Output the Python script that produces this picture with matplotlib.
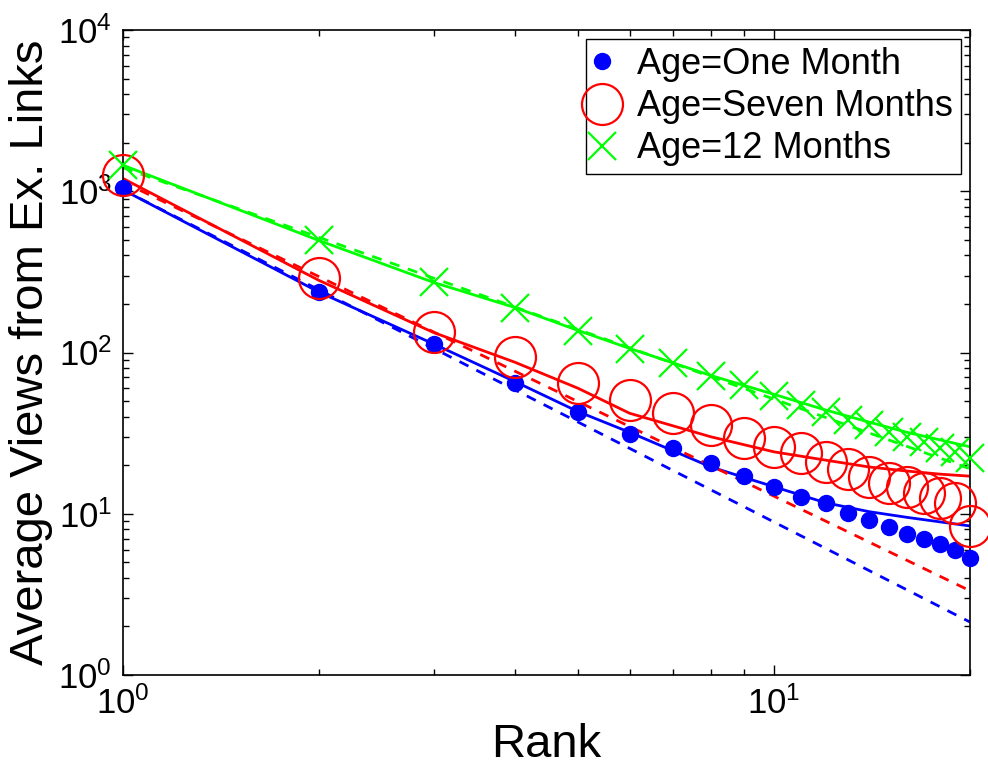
import matplotlib
matplotlib.use("Agg")
import matplotlib.pyplot as plt
from matplotlib.ticker import LogLocator, LogFormatterMathtext, NullFormatter

plt.rcParams['font.family'] = ['Liberation Sans', 'DejaVu Sans']
plt.rcParams['mathtext.default'] = 'regular'

# ---- data ----
rank = list(range(1, 21))
one_month = [1047, 237, 113, 64.7, 42.8, 31.2, 25.6, 20.6, 17.1, 14.6,
             12.7, 11.7, 10.1, 9.15, 8.28, 7.49, 6.97, 6.49, 5.96, 5.32]
seven_months = [1270, 290, 134, 93.8, 64.7, 50.8, 42.2, 35.5, 29.5, 25.9,
                23.8, 20.9, 18.9, 16.9, 15.6, 14.7, 13.4, 12.6, 11.7, 8.4]
twelve_months = [1455, 499, 274, 189, 136, 105, 86.1, 71.5, 62.8, 53.7,
                 47.2, 42.8, 38.1, 35.5, 32.1, 29.9, 27.9, 25.6, 24.2, 22.2]

# fitted curves (solid) read at these ranks
fit_rank = [1, 2, 3, 4, 5, 6, 8, 10, 12, 14, 16, 18, 20]
one_month_fit = [1020, 237, 113, 66, 43, 32, 19.5, 14.7, 11.7, 10.3, 9.5, 8.9, 8.4]
seven_months_fit = [1200, 280, 133, 87, 60, 42, 30, 24.2, 21.5, 19.5, 18.4, 17.6, 17.1]
twelve_months_fit = [1450, 495, 272, 190, 137, 106, 72, 55, 44, 37, 32, 28.7, 26]

# power-law fits (dashed), endpoints
pl_rank = [1, 20]
one_month_pl = [1020, 2.13]
seven_months_pl = [1140, 3.33]
twelve_months_pl = [1400, 19.0]

labels = ['Age=One Month', 'Age=Seven Months', 'Age=12 Months']

fig = plt.figure(figsize=(9.88, 7.78), dpi=100)
ax = fig.add_axes([123/988, 1-675/778, (970-123)/988, (675-30)/778])

lw = 2.0
dash = (0, (3.6, 3.2))
ax.plot(fit_rank, one_month_fit, '-', color=(0, 0, 1), lw=lw)
ax.plot(fit_rank, seven_months_fit, '-', color=(1, 0, 0), lw=lw)
ax.plot(fit_rank, twelve_months_fit, '-', color=(0, 1, 0), lw=lw)
ax.plot(pl_rank, one_month_pl, linestyle=dash, color=(0, 0, 1), lw=lw)
ax.plot(pl_rank, seven_months_pl, linestyle=dash, color=(1, 0, 0), lw=lw)
ax.plot(pl_rank, twelve_months_pl, linestyle=dash, color=(0, 1, 0), lw=lw)

ax.plot(rank, one_month, linestyle='none', marker='o', ms=11.5,
        mfc=(0, 0, 1), mec=(0, 0, 1), label=labels[0], clip_on=False, zorder=5)
ax.plot(rank, seven_months, linestyle='none', marker='o', ms=29.5,
        mfc='none', mec=(1, 0, 0), mew=1.6, label=labels[1], clip_on=False, zorder=5)
ax.plot(rank, twelve_months, linestyle='none', marker='x', ms=19.5,
        mec=(0, 1, 0), mew=1.6, label=labels[2], clip_on=False, zorder=5)

ax.set_xscale('log')
ax.set_yscale('log')
ax.set_xlim(1, 20)
ax.set_ylim(1, 1e4)

ax.xaxis.set_major_locator(LogLocator(base=10, numticks=10))
ax.yaxis.set_major_locator(LogLocator(base=10, numticks=10))
ax.xaxis.set_minor_locator(LogLocator(base=10, subs=range(2, 10), numticks=20))
ax.yaxis.set_minor_locator(LogLocator(base=10, subs=range(2, 10), numticks=20))
ax.xaxis.set_major_formatter(LogFormatterMathtext())
ax.yaxis.set_major_formatter(LogFormatterMathtext())
ax.xaxis.set_minor_formatter(NullFormatter())
ax.yaxis.set_minor_formatter(NullFormatter())

ax.tick_params(which='both', direction='in', top=True, right=True, width=1)
ax.tick_params(which='major', length=7, labelsize=25, pad=8)
ax.tick_params(which='minor', length=4)
for s in ax.spines.values():
    s.set_linewidth(1.2)

ax.set_xlabel('Rank', fontsize=34, labelpad=2)
ax.set_ylabel('Average Views from Ex. Links', fontsize=34, labelpad=4)

leg = ax.legend(loc='upper right', bbox_to_anchor=(0.989, 0.986), borderaxespad=0,
                fontsize=26, numpoints=1, fancybox=False, framealpha=1,
                edgecolor='black', handlelength=0.45, handletextpad=0.75,
                labelspacing=0.2, borderpad=0.22)
leg.get_frame().set_linewidth(1.0)

fig.savefig('out.png', dpi=100)
